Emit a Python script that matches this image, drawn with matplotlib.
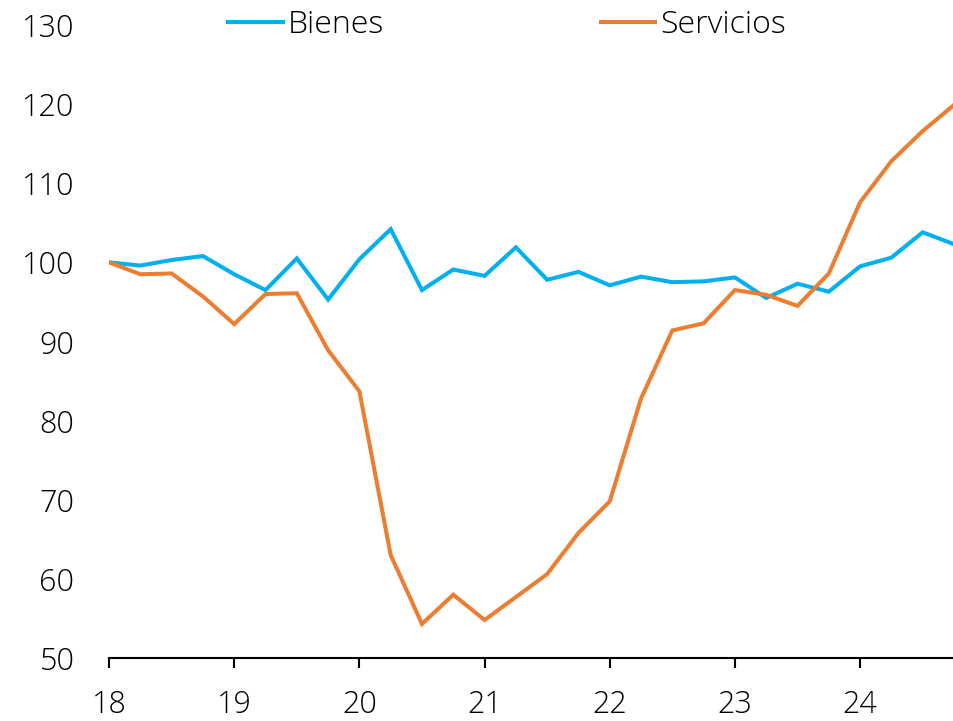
import matplotlib
matplotlib.use('Agg')
from matplotlib import pyplot as plt
import numpy as np

# quarterly index, 2018Q1 = 100
years = [18 + 0.25 * i for i in range(28)]
bienes = [100.0, 99.6, 100.3, 100.8, 98.5, 96.5, 100.5, 95.3,
          100.4, 104.2, 96.5, 99.1, 98.3, 101.9, 97.8, 98.8,
          97.1, 98.2, 97.5, 97.6, 98.1, 95.5, 97.3, 96.3,
          99.5, 100.6, 103.8, 102.3]
servicios = [100.0, 98.5, 98.6, 95.7, 92.2, 96.0, 96.1, 88.9,
             83.7, 63.0, 54.3, 58.0, 54.8, 57.7, 60.6, 65.8,
             69.8, 82.8, 91.4, 92.3, 96.5, 95.9, 94.5, 98.6,
             107.6, 112.8, 116.6, 119.9]
xticks = [18, 19, 20, 21, 22, 23, 24]
yticks = [50, 60, 70, 80, 90, 100, 110, 120, 130]

plt.rcParams['font.family'] = ['Open Sans', 'DejaVu Sans']
plt.rcParams['font.weight'] = 'light'
plt.rcParams['font.size'] = 22

fig = plt.figure(figsize=(9.54, 7.21), dpi=100)
ax = fig.add_axes([0.1143, 0.0874, 0.8857, 0.8779])

ax.plot(years, bienes, color='#00B0F0', lw=2.9, label='Bienes', solid_joinstyle='miter')
ax.plot(years, servicios, color='#ED7D31', lw=2.9, label='Servicios', solid_joinstyle='miter')

ax.set_xlim(18, 24.75)
ax.set_ylim(50, 130)
ax.set_xticks(xticks)
ax.set_xticklabels([str(t) for t in xticks])
ax.set_yticks(yticks)

for s in ['top', 'right', 'left']:
	ax.spines[s].set_visible(False)
ax.spines['bottom'].set_linewidth(1.5)
ax.tick_params(axis='y', length=0, pad=25)
ax.tick_params(axis='x', length=7, width=1.5, direction='out', pad=15)

ax.legend(loc='center', bbox_to_anchor=(0.471, 1.0), ncol=2, frameon=False,
          fontsize=23, handlelength=1.7, handletextpad=0.15, columnspacing=6.8,
          borderaxespad=0, borderpad=0)

fig.savefig('out.png', dpi=100)
